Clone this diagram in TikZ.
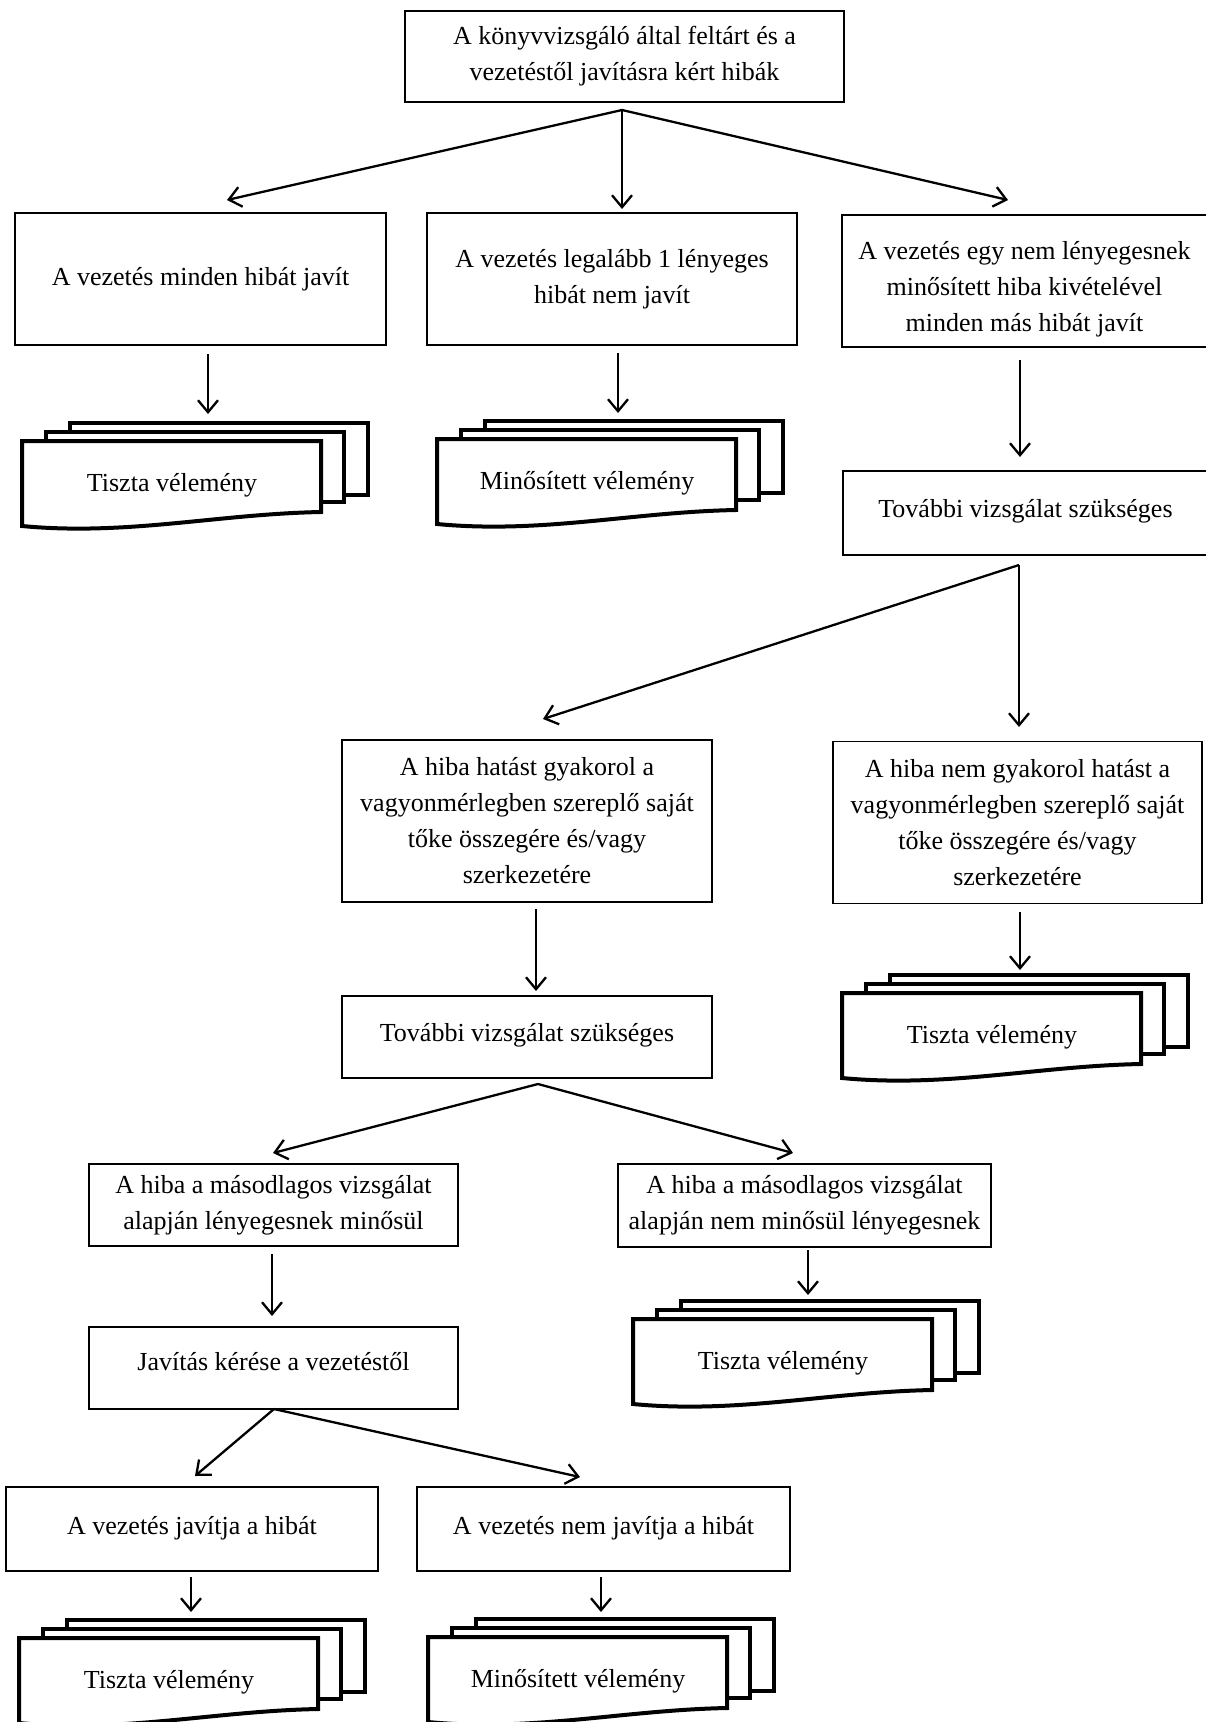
\documentclass[tikz,border=0pt]{standalone}
\usepackage{fontspec}
\setmainfont{Liberation Serif}
\usetikzlibrary{arrows.meta}
\tikzset{
  box/.style={draw, line width=1.2pt, align=center, inner sep=0pt,
    font=\fontsize{26}{36}\selectfont},
  doc/.style={draw, fill=white, line width=4pt, line join=miter},
  doctext/.style={inner sep=0pt, font=\fontsize{26}{36}\selectfont},
  arr/.style={line width=2.3pt, -{Straight Barb[length=12pt,width=20pt,line width=2.3pt]}}
}
\newcommand\multidoc[4]{%
  \draw[doc] (#2+48,#3-18) rectangle (#2+48+298,#3-18+72);
  \draw[doc] (#2+24,#3-9) rectangle (#2+24+298,#3-9+70);
  \draw[doc] (#2,#3) -- (#2+299,#3) -- (#2+299,#3+71)
     .. controls (#2+195,#3+73) and (#2+105,#3+95) .. (#2,#3+85) -- cycle;
  \node[doctext] (#1) at (#2+150,#3+44) {#4};
}
\begin{document}
\begin{tikzpicture}[x=1pt,y=-1pt]
\useasboundingbox[fill=white] (0,0) rectangle (1206,1722);

% boxes
\node[box, minimum width=439pt, minimum height=91pt] (top) at (624.5,56.5)
  {A könyvvizsgáló által feltárt és a\\vezetéstől javításra kért hibák};
\node[box, minimum width=371pt, minimum height=132pt] (a1) at (200.5,279)
  {A vezetés minden hibát javít};
\node[box, minimum width=370pt, minimum height=132pt] (a2) at (612,279)
  {A vezetés legalább 1 lényeges\\hibát nem javít};
\node[box, minimum width=365pt, minimum height=132pt] (a3) at (1024.5,281)
  {\rule{0pt}{35pt}A vezetés egy nem lényegesnek\\minősített hiba kivételével\\minden más hibát javít};
\node[box, minimum width=365pt, minimum height=84pt, text depth=0pt] (t1) at (1025.5,513)
  {\raisebox{10pt}{További vizsgálat szükséges}};
\node[box, minimum width=370pt, minimum height=162pt] (b1) at (527,821)
  {A hiba hatást gyakorol a\\vagyonmérlegben szereplő saját\\tőke összegére és/vagy\\szerkezetére};
\node[box, minimum width=369pt, minimum height=162pt] (b2) at (1017.5,822.5)
  {A hiba nem gyakorol hatást a\\vagyonmérlegben szereplő saját\\tőke összegére és/vagy\\szerkezetére};
\node[box, minimum width=370pt, minimum height=82pt, text depth=0pt] (t2) at (527,1037)
  {\raisebox{10pt}{További vizsgálat szükséges}};
\node[box, minimum width=369pt, minimum height=82pt] (c1) at (273.5,1205)
  {A hiba a másodlagos vizsgálat\\alapján lényegesnek minősül};
\node[box, minimum width=373pt, minimum height=83pt] (c2) at (804.5,1205.5)
  {A hiba a másodlagos vizsgálat\\alapján nem minősül lényegesnek};
\node[box, minimum width=369pt, minimum height=82pt, text depth=0pt] (d) at (273.5,1368)
  {\raisebox{14pt}{Javítás kérése a vezetéstől}};
\node[box, minimum width=372pt, minimum height=84pt, text depth=0pt] (e1) at (192,1529)
  {\raisebox{7pt}{A vezetés javítja a hibát}};
\node[box, minimum width=373pt, minimum height=84pt, text depth=0pt] (e2) at (603.5,1529)
  {\raisebox{7pt}{A vezetés nem javítja a hibát}};

% multi-documents
\multidoc{m1}{22}{441}{Tiszta vélemény}
\multidoc{m2}{437}{439}{Minősített vélemény}
\multidoc{m3}{842}{993}{Tiszta vélemény}
\multidoc{m4}{633}{1319}{Tiszta vélemény}
\multidoc{m5}{19}{1638}{Tiszta vélemény}
\multidoc{m6}{428}{1637}{Minősített vélemény}

% connector end points
\coordinate (top-o) at (622,110);
\coordinate (a1-i) at (227,200);
\coordinate (a2-i) at (622,209);
\coordinate (a3-i) at (1008,200);
\coordinate (a1-o) at (208,354);
\coordinate (m1-i) at (208,414);
\coordinate (a2-o) at (618,353);
\coordinate (m2-i) at (618,413);
\coordinate (a3-o) at (1020,360);
\coordinate (t1-i) at (1020,457);
\coordinate (t1-o) at (1019,565);
\coordinate (b1-i) at (543,719);
\coordinate (b2-i) at (1019,727);
\coordinate (b1-o) at (536,909);
\coordinate (t2-i) at (536,991);
\coordinate (b2-o) at (1020,912);
\coordinate (m3-i) at (1020,970);
\coordinate (t2-o) at (538,1084);
\coordinate (c1-i) at (273,1153);
\coordinate (c2-i) at (793,1153);
\coordinate (c1-o) at (272,1254);
\coordinate (d-i) at (272,1316);
\coordinate (c2-o) at (808,1250);
\coordinate (m4-i) at (808,1295);
\coordinate (d-o) at (274,1409);
\coordinate (e1-i) at (195,1476);
\coordinate (e2-i) at (580,1477);
\coordinate (e1-o) at (191,1577);
\coordinate (m5-i) at (191,1612);
\coordinate (e2-o) at (601,1577);
\coordinate (m6-i) at (601,1612);

% connectors
\draw[arr] (top-o) -- (a1-i);
\draw[arr] (top-o) -- (a2-i);
\draw[arr] (top-o) -- (a3-i);
\draw[arr] (a1-o) -- (m1-i);
\draw[arr] (a2-o) -- (m2-i);
\draw[arr] (a3-o) -- (t1-i);
\draw[arr] (t1-o) -- (b1-i);
\draw[arr] (t1-o) -- (b2-i);
\draw[arr] (b1-o) -- (t2-i);
\draw[arr] (b2-o) -- (m3-i);
\draw[arr] (t2-o) -- (c1-i);
\draw[arr] (t2-o) -- (c2-i);
\draw[arr] (c1-o) -- (d-i);
\draw[arr] (c2-o) -- (m4-i);
\draw[arr] (d-o) -- (e1-i);
\draw[arr] (d-o) -- (e2-i);
\draw[arr] (e1-o) -- (m5-i);
\draw[arr] (e2-o) -- (m6-i);
\end{tikzpicture}
\end{document}
